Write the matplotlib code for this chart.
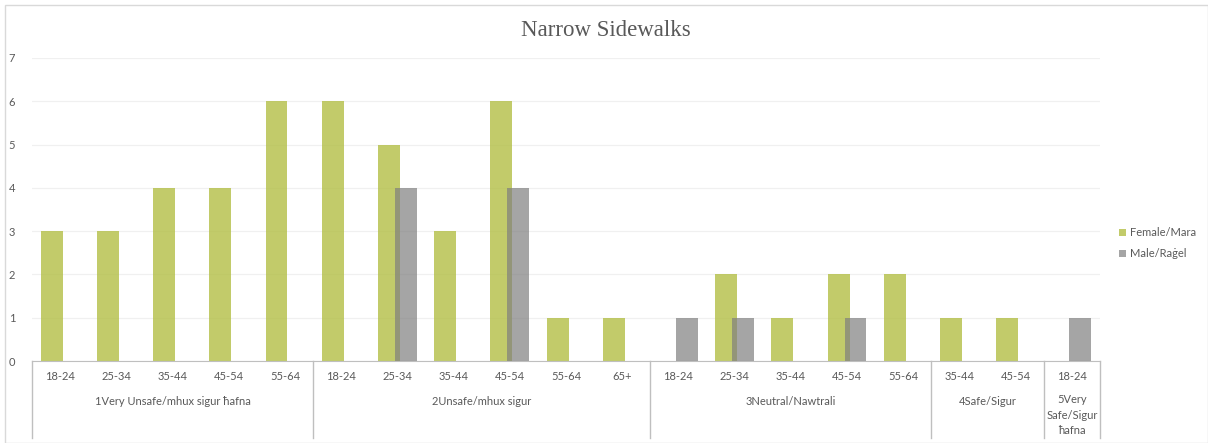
import numpy as np
import matplotlib.pyplot as plt
from matplotlib.patches import Rectangle
from matplotlib.transforms import blended_transform_factory

# safety rating groups and the age bands inside each
groups = ["1Very Unsafe/mhux sigur ħafna", "2Unsafe/mhux sigur", "3Neutral/Nawtrali",
          "4Safe/Sigur", "5Very\nSafe/Sigur\nħafna"]
ages = [
    ["18-24", "25-34", "35-44", "45-54", "55-64"],
    ["18-24", "25-34", "35-44", "45-54", "55-64", "65+"],
    ["18-24", "25-34", "35-44", "45-54", "55-64"],
    ["35-44", "45-54"],
    ["18-24"],
]
female = [3, 3, 4, 4, 6,
          6, 5, 3, 6, 1, 1,
          0, 2, 1, 2, 2,
          1, 1,
          0]
male = [0, 0, 0, 0, 0,
        0, 4, 0, 4, 0, 0,
        1, 1, 0, 1, 0,
        0, 0,
        1]

TXT = "#595959"
FONT = ["Lato", "DejaVu Sans"]

fig = plt.figure(figsize=(12.08, 4.43), dpi=100)
ax = fig.add_axes([32 / 1208, 82 / 443, 1068 / 1208, 303 / 443])

x = np.arange(len(female))
ax.bar(x - 0.15, female, width=0.39, color="#b3bf45", alpha=0.8, label="Female/Mara", zorder=2)
ax.bar(x + 0.15, male, width=0.39, color="#7f7f7f", alpha=0.7, label="Male/Raġel", zorder=3)

ax.set_xlim(-0.5, len(female) - 0.5)
ax.set_ylim(0, 7)
ax.set_yticks(range(8))
ax.yaxis.grid(True, color="#f0f0f0", lw=0.9, zorder=0)
ax.set_axisbelow(True)
ax.tick_params(axis="y", length=0, labelsize=8, labelcolor=TXT, pad=12)
for lbl in ax.get_yticklabels():
    lbl.set_family(FONT)
ax.set_xticks([])
for s in ["top", "right", "left"]:
    ax.spines[s].set_visible(False)
ax.spines["bottom"].set_color("#bfbfbf")

# multi-level category axis
tr = blended_transform_factory(ax.transData, ax.transAxes)
pos = 0
edges = [-0.5]
for g, bands in zip(groups, ages):
    for i, a in enumerate(bands):
        ax.text(pos + i, -0.05, a, transform=tr, ha="center", va="center",
                fontsize=8, color=TXT, family=FONT, clip_on=False)
    mid = pos + (len(bands) - 1) / 2
    if "\n" in g:
        ax.text(mid, -0.11, g, transform=tr, ha="center", va="top", fontsize=8,
                color=TXT, family=FONT, linespacing=1.5, clip_on=False)
    else:
        ax.text(mid, -0.135, g, transform=tr, ha="center", va="center", fontsize=8,
                color=TXT, family=FONT, clip_on=False)
    pos += len(bands)
    edges.append(pos - 0.5)
for e in edges:
    ax.plot([e, e], [0, -0.254], transform=tr, color="#bfbfbf", lw=1, clip_on=False)

fig.text(606 / 1208, 1 - 30 / 443, "Narrow Sidewalks", family=["Liberation Serif", "DejaVu Serif"],
         fontsize=16.5, color=TXT, ha="center", va="center")

fig.legend(loc="center left", bbox_to_anchor=(1109 / 1208, 1 - 243 / 443), frameon=False,
           labelcolor=TXT, handlelength=0.6, handleheight=0.6,
           handletextpad=0.4, labelspacing=0.9, prop={"family": FONT, "size": 8})

fig.patches.append(Rectangle((5 / 1208, 0), 1 - 5 / 1208, 1 - 5 / 443, transform=fig.transFigure,
                             fill=False, edgecolor="#d9d9d9", lw=1))

fig.savefig("out.png", dpi=100)
